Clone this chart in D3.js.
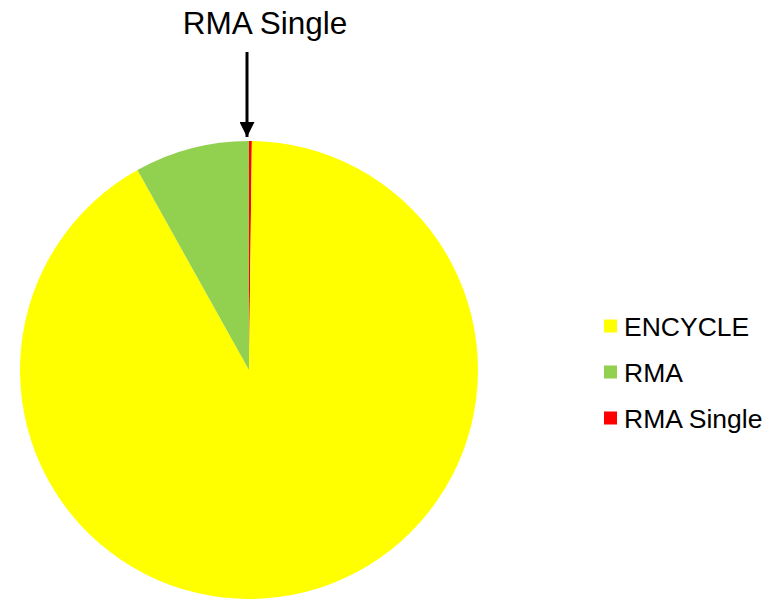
<!DOCTYPE html>
<html lang="en">
<head>
<meta charset="UTF-8">
<title>Pie</title>
<script src="https://d3js.org/d3.v7.min.js"></script>
<style>
  body { margin: 0; background: #fff; }
  text { font-family: "Liberation Sans", Arial, sans-serif; fill: #000; }
</style>
</head>
<body>
<svg width="781" height="601"></svg>
<script>
var categories = ["RMA Single", "ENCYCLE", "RMA"];
var values = [0.2, 91.7, 8.1];
var colors = ["#ff0000", "#ffff00", "#92d050"];
var legendOrder = ["ENCYCLE", "RMA", "RMA Single"];

var svg = d3.select("svg");
var cx = 249, cy = 370, r = 229;

var color = d3.scaleOrdinal().domain(categories).range(colors);

var data = categories.map(function (c, i) { return { name: c, value: values[i] }; });
var pie = d3.pie().sort(null).value(function (d) { return d.value; });
var arc = d3.arc().innerRadius(0).outerRadius(r);

var g = svg.append("g").attr("transform", "translate(" + cx + "," + cy + ")");
g.selectAll("path")
  .data(pie(data))
  .enter().append("path")
  .attr("d", arc)
  .attr("fill", function (d) { return color(d.data.name); });

// callout arrow for the tiny slice
var defs = svg.append("defs");
defs.append("marker")
  .attr("id", "arrow")
  .attr("viewBox", "0 0 10 10")
  .attr("refX", 10).attr("refY", 5)
  .attr("markerWidth", 5).attr("markerHeight", 5)
  .attr("markerUnits", "strokeWidth")
  .attr("orient", "auto")
  .append("path").attr("d", "M0,0 L10,5 L0,10 Z").attr("fill", "#000");

svg.append("line")
  .attr("x1", 247).attr("y1", 52)
  .attr("x2", 247).attr("y2", 137)
  .attr("stroke", "#000").attr("stroke-width", 3)
  .attr("marker-end", "url(#arrow)");

svg.append("text")
  .attr("x", 265).attr("y", 34)
  .attr("text-anchor", "middle")
  .style("font-size", "31.5px")
  .text("RMA Single");

// legend
var legend = svg.append("g");
var rows = legend.selectAll("g")
  .data(legendOrder)
  .enter().append("g")
  .attr("transform", function (d, i) { return "translate(604," + (326 + i * 46) + ")"; });
rows.append("rect")
  .attr("x", 0).attr("y", -6.5)
  .attr("width", 13).attr("height", 13)
  .attr("fill", function (d) { return color(d); });
rows.append("text")
  .attr("x", 20).attr("y", 9.5)
  .style("font-size", "26.5px")
  .text(function (d) { return d; });
</script>
</body>
</html>
